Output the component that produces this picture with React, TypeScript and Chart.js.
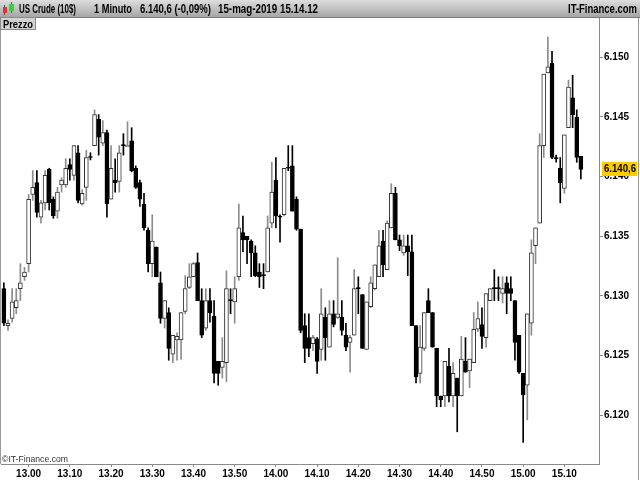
import { useEffect, useRef } from 'react';
import { Chart, registerables } from 'chart.js';

Chart.register(...registerables);

// ---- data (1-minute candles, US Crude, 15-mag-2019) ----
const START_TIME = '12.54';
const opens = [
  6.1306, 6.1275, 6.1281, 6.1290, 6.1306, 6.1316, 6.1327, 6.1385, 6.1395, 6.1366,
  6.1378, 6.1406, 6.1381, 6.1371, 6.1393, 6.1393, 6.1410, 6.1401, 6.1420, 6.1377,
  6.1391, 6.1416, 6.1426, 6.1448, 6.1428, 6.1437, 6.1381, 6.1397, 6.1396, 6.1426,
  6.1425, 6.1430, 6.1407, 6.1395, 6.1377, 6.1355, 6.1327, 6.1341, 6.1311, 6.1281,
  6.1286, 6.1251, 6.1263, 6.1263, 6.1287, 6.1307, 6.1316, 6.1328, 6.1296, 6.1273,
  6.1296, 6.1283, 6.1245, 6.1240, 6.1244, 6.1296, 6.1295, 6.1316, 6.1353, 6.1350,
  6.1346, 6.1336, 6.1320, 6.1317, 6.1320, 6.1361, 6.1397, 6.1367, 6.1368, 6.1407,
  6.1409, 6.1381, 6.1356, 6.1275, 6.1265, 6.1260, 6.1264, 6.1255, 6.1282, 6.1257,
  6.1285, 6.1282, 6.1282, 6.1267, 6.1261, 6.1267, 6.1306, 6.1301, 6.1255, 6.1291,
  6.1306, 6.1316, 6.1346, 6.1322, 6.1357, 6.1386, 6.1347, 6.1336, 6.1342, 6.1337,
  6.1275, 6.1235, 6.1256, 6.1296, 6.1286, 6.1256, 6.1216, 6.1216, 6.1241, 6.1216,
  6.1231, 6.1216, 6.1245, 6.1237, 6.1244, 6.1272, 6.1276, 6.1265, 6.1296, 6.1306,
  6.1306, 6.1302, 6.1311, 6.1306, 6.1296, 6.1267, 6.1235, 6.1225, 6.1277, 6.1342,
  6.1361, 6.1426, 6.1487, 6.1495, 6.1416, 6.1407, 6.1390, 6.1441, 6.1466, 6.1450,
  6.1417,
];
const highs = [
  6.1311, 6.1280, 6.1306, 6.1306, 6.1327, 6.1324, 6.1385, 6.1405, 6.1405, 6.1380,
  6.1405, 6.1407, 6.1383, 6.1391, 6.1399, 6.1415, 6.1415, 6.1426, 6.1426, 6.1389,
  6.1422, 6.1420, 6.1456, 6.1452, 6.1447, 6.1439, 6.1426, 6.1415, 6.1426, 6.1436,
  6.1446, 6.1441, 6.1409, 6.1397, 6.1386, 6.1357, 6.1368, 6.1341, 6.1320, 6.1296,
  6.1290, 6.1267, 6.1269, 6.1286, 6.1317, 6.1327, 6.1328, 6.1336, 6.1306, 6.1306,
  6.1306, 6.1296, 6.1245, 6.1265, 6.1321, 6.1306, 6.1316, 6.1377, 6.1367, 6.1350,
  6.1347, 6.1342, 6.1327, 6.1327, 6.1367, 6.1412, 6.1416, 6.1368, 6.1407, 6.1426,
  6.1426, 6.1383, 6.1356, 6.1285, 6.1285, 6.1267, 6.1265, 6.1306, 6.1290, 6.1296,
  6.1296, 6.1332, 6.1296, 6.1277, 6.1267, 6.1322, 6.1316, 6.1301, 6.1295, 6.1316,
  6.1326, 6.1355, 6.1355, 6.1363, 6.1394, 6.1391, 6.1351, 6.1351, 6.1351, 6.1351,
  6.1275, 6.1275, 6.1286, 6.1306, 6.1286, 6.1256, 6.1216, 6.1245, 6.1256, 6.1244,
  6.1231, 6.1266, 6.1265, 6.1247, 6.1286, 6.1295, 6.1290, 6.1302, 6.1306, 6.1322,
  6.1316, 6.1316, 6.1316, 6.1316, 6.1296, 6.1267, 6.1235, 6.1285, 6.1347, 6.1357,
  6.1436, 6.1486, 6.1517, 6.1505, 6.1418, 6.1416, 6.1435, 6.1481, 6.1485, 6.1456,
  6.1417,
];
const lows = [
  6.1275, 6.1271, 6.1278, 6.1285, 6.1296, 6.1313, 6.1320, 6.1380, 6.1366, 6.1361,
  6.1372, 6.1372, 6.1365, 6.1365, 6.1387, 6.1391, 6.1397, 6.1397, 6.1378, 6.1376,
  6.1380, 6.1414, 6.1426, 6.1418, 6.1426, 6.1366, 6.1381, 6.1387, 6.1387, 6.1418,
  6.1425, 6.1404, 6.1390, 6.1375, 6.1355, 6.1320, 6.1316, 6.1316, 6.1277, 6.1273,
  6.1246, 6.1244, 6.1246, 6.1247, 6.1285, 6.1306, 6.1316, 6.1296, 6.1265, 6.1271,
  6.1278, 6.1227, 6.1225, 6.1231, 6.1228, 6.1285, 6.1277, 6.1313, 6.1337, 6.1327,
  6.1316, 6.1316, 6.1307, 6.1306, 6.1320, 6.1357, 6.1357, 6.1345, 6.1367, 6.1405,
  6.1371, 6.1355, 6.1269, 6.1244, 6.1249, 6.1254, 6.1235, 6.1246, 6.1246, 6.1257,
  6.1274, 6.1281, 6.1267, 6.1254, 6.1236, 6.1267, 6.1285, 6.1256, 6.1255, 6.1290,
  6.1305, 6.1316, 6.1316, 6.1322, 6.1357, 6.1347, 6.1338, 6.1334, 6.1317, 6.1275,
  6.1227, 6.1227, 6.1254, 6.1286, 6.1257, 6.1207, 6.1207, 6.1207, 6.1211, 6.1207,
  6.1186, 6.1216, 6.1236, 6.1223, 6.1244, 6.1270, 6.1256, 6.1257, 6.1296, 6.1296,
  6.1296, 6.1294, 6.1285, 6.1296, 6.1246, 6.1235, 6.1177, 6.1196, 6.1267, 6.1327,
  6.1361, 6.1416, 6.1487, 6.1415, 6.1412, 6.1378, 6.1386, 6.1441, 6.1441, 6.1412,
  6.1398,
];
const closes = [
  6.1277, 6.1277, 6.1295, 6.1296, 6.1311, 6.1320, 6.1381, 6.1391, 6.1370, 6.1378,
  6.1401, 6.1378, 6.1367, 6.1387, 6.1397, 6.1407, 6.1406, 6.1426, 6.1380, 6.1386,
  6.1416, 6.1416, 6.1452, 6.1433, 6.1437, 6.1377, 6.1407, 6.1395, 6.1420, 6.1426,
  6.1426, 6.1405, 6.1391, 6.1381, 6.1357, 6.1327, 6.1346, 6.1316, 6.1281, 6.1296,
  6.1256, 6.1267, 6.1266, 6.1286, 6.1306, 6.1316, 6.1327, 6.1296, 6.1267, 6.1296,
  6.1286, 6.1235, 6.1235, 6.1245, 6.1306, 6.1296, 6.1306, 6.1357, 6.1347, 6.1347,
  6.1336, 6.1317, 6.1316, 6.1317, 6.1357, 6.1387, 6.1367, 6.1366, 6.1407, 6.1407,
  6.1371, 6.1356, 6.1271, 6.1256, 6.1256, 6.1265, 6.1245, 6.1285, 6.1265, 6.1285,
  6.1276, 6.1285, 6.1271, 6.1257, 6.1265, 6.1306, 6.1306, 6.1256, 6.1295, 6.1311,
  6.1326, 6.1342, 6.1326, 6.1361, 6.1386, 6.1347, 6.1342, 6.1342, 6.1337, 6.1275,
  6.1232, 6.1257, 6.1286, 6.1286, 6.1257, 6.1216, 6.1213, 6.1245, 6.1216, 6.1235,
  6.1216, 6.1247, 6.1236, 6.1247, 6.1272, 6.1281, 6.1266, 6.1302, 6.1306, 6.1306,
  6.1306, 6.1306, 6.1302, 6.1302, 6.1261, 6.1236, 6.1217, 6.1285, 6.1336, 6.1357,
  6.1426, 6.1486, 6.1492, 6.1416, 6.1415, 6.1395, 6.1435, 6.1475, 6.1452, 6.1416,
  6.1406,
];
const yTickValues = [6.120, 6.125, 6.130, 6.135, 6.140, 6.145, 6.150];
const xTickLabels = ['13.00', '13.10', '13.20', '13.30', '13.40', '13.50', '14.00',
  '14.10', '14.20', '14.30', '14.40', '14.50', '15.00', '15.10'];
const LAST_PRICE = '6.140,6';
const HEADER_PARTS = ['US Crude (10$)', '1 Minuto', '6.140,6 (-0,09%)', '15-mag-2019 15.14.12'];
const BRAND = 'IT-Finance.com';
const PANEL_LABEL = 'Prezzo';
const COPYRIGHT = '\u00A9IT-Finance.com';

// axis ranges
const X_MIN = 773.3;
const X_MAX = 918.4;
const Y_MIN = 6.1159;
const Y_MAX = 6.1533;

const toMin = (s: string) => {
  const [h, m] = s.split('.').map(Number);
  return h * 60 + m;
};
const fmtMin = (v: number) => {
  const h = Math.floor(v / 60);
  const m = Math.round(v - h * 60);
  return `${h}.${String(m).padStart(2, '0')}`;
};

const FONT = "'Liberation Sans', Arial, sans-serif";

const decor = {
  id: 'decor',
  beforeDraw(chart: any) {
    const ctx = chart.ctx;
    ctx.save();
    ctx.fillStyle = '#ffffff';
    ctx.fillRect(0, 0, chart.width, chart.height);
    ctx.restore();
  },
  afterDraw(chart: any) {
    const ctx = chart.ctx as CanvasRenderingContext2D;
    const W = chart.width;
    const H = chart.height;
    const area = chart.chartArea;
    ctx.save();
    // header bar
    const g = ctx.createLinearGradient(0, 0, 0, 18);
    g.addColorStop(0, '#dedede');
    g.addColorStop(1, '#a2a2a2');
    ctx.fillStyle = g;
    ctx.fillRect(0, 0, W, 18);
    ctx.fillStyle = '#7a7a7a';
    ctx.fillRect(0, 17, W, 1);
    // icon
    ctx.fillStyle = '#555';
    ctx.fillRect(4, 5, 1, 10);
    ctx.fillRect(11, 2, 1, 11);
    ctx.fillStyle = '#e0303a';
    ctx.fillRect(3, 7, 4, 6);
    ctx.fillStyle = '#3ccf3c';
    ctx.fillRect(9, 4, 5, 7);
    // header texts
    ctx.fillStyle = '#000';
    ctx.font = `bold 12px ${FONT}`;
    ctx.textBaseline = 'alphabetic';
    ctx.textAlign = 'left';
    const xs = [19, 94, 140, 218];
    const ws = [57, 38, 71, 100];
    HEADER_PARTS.forEach((t, i) => ctx.fillText(t, xs[i], 13, ws[i]));
    ctx.textAlign = 'right';
    ctx.fillText(BRAND, 637, 13, 69);
    // panel label
    ctx.fillStyle = '#d2d2d2';
    ctx.fillRect(0, 18, 36, 12);
    ctx.strokeStyle = '#8a8a8a';
    ctx.lineWidth = 1;
    ctx.strokeRect(0.5, 17.5, 35, 12);
    ctx.fillStyle = '#000';
    ctx.textAlign = 'left';
    ctx.font = `bold 11px ${FONT}`;
    ctx.fillText(PANEL_LABEL, 3, 27.5, 30);
    // frame lines
    ctx.fillStyle = '#9a9a9a';
    ctx.fillRect(0, 30, 1, area.bottom - 30);
    ctx.fillRect(638, 18, 1, H - 18);
    // copyright
    ctx.fillStyle = '#333';
    ctx.font = `9px ${FONT}`;
    ctx.fillText(COPYRIGHT, 2, 462, 66);
    // last price box
    const yScale = chart.scales.y;
    const py = yScale.getPixelForValue(closes[closes.length - 1]);
    ctx.fillStyle = '#ffcc00';
    ctx.fillRect(602, Math.round(py) - 7, 35, 14);
    ctx.fillStyle = '#000';
    ctx.font = `bold 10px ${FONT}`;
    ctx.textBaseline = 'middle';
    ctx.fillText(LAST_PRICE, 604, Math.round(py) + 0.5, 32);
    ctx.restore();
  },
};

export default function App() {
  const ref = useRef<HTMLCanvasElement | null>(null);
  useEffect(() => {
    if (!ref.current) return;
    const start = toMin(START_TIME);
    const times = opens.map((_, i) => start + i);
    const isUp = opens.map((o, i) => closes[i] > o);
    const bodyData = times.map((x, i) => ({ x, y: [opens[i], closes[i]] }));
    const wickData = times.map((x, i) => ({ x, y: [lows[i], highs[i]] }));
    Chart.defaults.font.family = FONT;
    const chart = new Chart(ref.current, {
      type: 'bar',
      data: {
        datasets: [
          {
            label: 'body',
            data: bodyData as any,
            backgroundColor: isUp.map((u) => (u ? '#ffffff' : '#000000')),
            borderColor: isUp.map((u) => (u ? '#333333' : '#000000')),
            borderWidth: 1,
            borderSkipped: false,
            barThickness: 4,
            minBarLength: 1,
            grouped: false,
            order: 0,
          } as any,
          {
            label: 'wick',
            data: wickData as any,
            backgroundColor: isUp.map((u) => (u ? '#8c8c8c' : '#000000')),
            borderWidth: 0,
            barThickness: 1,
            grouped: false,
            order: 1,
          } as any,
        ],
      },
      options: {
        animation: false,
        responsive: false,
        maintainAspectRatio: false,
        devicePixelRatio: 1,
        layout: { padding: { left: 1, top: 18, right: 0, bottom: 0 } },
        plugins: { legend: { display: false }, tooltip: { enabled: false } },
        scales: {
          x: {
            type: 'linear',
            min: X_MIN,
            max: X_MAX,
            offset: false,
            afterFit: (s: any) => { s.height = 16; },
            afterBuildTicks: (s: any) => { s.ticks = xTickLabels.map((l) => ({ value: toMin(l) })); },
            grid: { drawOnChartArea: false, drawTicks: true, tickLength: 3, color: '#8a8a8a', offset: false },
            border: { display: true, color: '#8a8a8a' },
            ticks: {
              autoSkip: false,
              maxRotation: 0,
              padding: 1,
              color: '#000',
              font: { size: 10, weight: 'bold' },
              callback: (v: any) => fmtMin(Number(v)),
            },
          },
          y: {
            type: 'linear',
            position: 'right',
            min: Y_MIN,
            max: Y_MAX,
            afterFit: (s: any) => { s.width = 41; },
            afterBuildTicks: (s: any) => { s.ticks = yTickValues.map((v) => ({ value: v })); },
            grid: { drawOnChartArea: false, drawTicks: true, tickLength: 4, color: '#8a8a8a' },
            border: { display: true, color: '#8a8a8a' },
            ticks: {
              padding: 1,
              color: '#000',
              font: { size: 10, weight: 'bold' },
              callback: (v: any) => Number(v).toFixed(3),
            },
          },
        },
      } as any,
      plugins: [decor],
    });
    return () => chart.destroy();
  }, []);
  return (
    <canvas
      ref={ref}
      width={640}
      height={480}
      style={{ position: 'fixed', left: 0, top: 0, width: 640, height: 480, display: 'block' }}
    />
  );
}
